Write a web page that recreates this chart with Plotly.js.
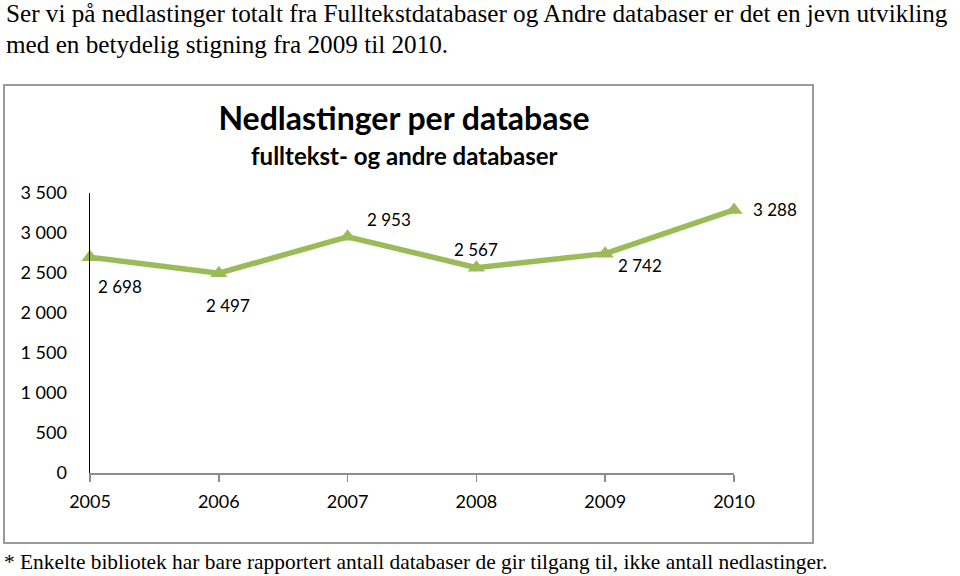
<!DOCTYPE html>
<html>
<head>
<meta charset="utf-8">
<script src="https://cdn.plot.ly/plotly-3.0.1.min.js"></script>
<style>
  html, body { margin: 0; padding: 0; background: #fff; }
  #wrap { position: relative; width: 960px; height: 576px; overflow: hidden; }
  #chart { position: absolute; left: 0; top: 0; width: 960px; height: 576px; }
  .txt { position: absolute; font-family: "Liberation Serif", "Times New Roman", serif; color: #000; white-space: nowrap; }
  .intro { left: 6px; font-size: 25.2px; line-height: normal; }
  #intro1 { top: 0px; }
  #intro2 { top: 31px; }
  #foot { left: 4px; top: 549px; font-size: 21.4px; line-height: 26px; }
</style>
</head>
<body>
<div id="wrap">
  <div id="chart"></div>
  <div class="txt intro" id="intro1">Ser vi på nedlastinger totalt fra Fulltekstdatabaser og Andre databaser er det en jevn utvikling</div>
  <div class="txt intro" id="intro2">med en betydelig stigning fra 2009 til 2010.</div>
  <div class="txt" id="foot">* Enkelte bibliotek har bare rapportert antall databaser de gir tilgang til, ikke antall nedlastinger.</div>
</div>
<script>
const years = [2005, 2006, 2007, 2008, 2009, 2010];
const downloads = [2698, 2497, 2953, 2567, 2742, 3288];
const yTicks = [0, 500, 1000, 1500, 2000, 2500, 3000, 3500];
const chartTitle = 'Nedlastinger per database';
const chartSubtitle = 'fulltekst- og andre databaser';

const labelShift = [[30, -29], [9, -32], [41, 17], [0, 18], [35, -12], [41, 0]];
const fmt = v => String(v).replace(/\B(?=(\d{3})+(?!\d))/g, ' ');
const FONT = 'Lato, "Noto Sans", sans-serif';
const green = '#9BBB59';

const trace = {
  x: years, y: downloads, type: 'scatter', mode: 'lines+markers',
  line: { color: green, width: 5.5 },
  marker: { symbol: 'triangle-up', size: 15, color: green },
  cliponaxis: false, hoverinfo: 'skip'
};

const annotations = years.map((yr, i) => ({
  x: yr, y: downloads[i], xref: 'x', yref: 'y', text: fmt(downloads[i]),
  showarrow: false, xshift: labelShift[i][0], yshift: labelShift[i][1],
  font: { family: FONT, size: 17, color: '#000' }
}));
annotations.push({
  xref: 'paper', yref: 'paper', x: (404 - 90) / 644, y: (473 - 155) / 280,
  text: '<b>' + chartSubtitle + '</b>', showarrow: false,
  xanchor: 'center', yanchor: 'middle',
  font: { family: FONT, size: 24, color: '#000' }
});

const layout = {
  width: 960, height: 576,
  margin: { l: 90, r: 226, t: 193, b: 103 },
  paper_bgcolor: 'rgba(0,0,0,0)', plot_bgcolor: 'rgba(0,0,0,0)',
  separators: ', ',
  showlegend: false,
  title: {
    text: '<b>' + chartTitle + '</b>',
    x: 404 / 960, xanchor: 'center', xref: 'container',
    y: 1 - 119 / 576, yanchor: 'middle', yref: 'container',
    font: { family: FONT, size: 32, color: '#000' }
  },
  xaxis: {
    range: [2005, 2010], tickvals: years, ticktext: years.map(String),
    showgrid: false, zeroline: false,
    showline: true, linecolor: '#8c8c8c', linewidth: 1.5,
    ticks: 'outside', ticklen: 7, tickcolor: '#8c8c8c', tickwidth: 1.5,
    ticklabelstandoff: 5,
    tickfont: { family: FONT, size: 18, color: '#000' }
  },
  yaxis: {
    range: [0, 3500], tickvals: yTicks, ticktext: yTicks.map(fmt),
    showgrid: false, zeroline: false,
    showline: true, linecolor: '#000', linewidth: 1.5,
    ticks: '', ticklabelstandoff: 18,
    tickfont: { family: FONT, size: 18, color: '#000' }
  },
  annotations: annotations,
  shapes: [{
    type: 'rect', xref: 'paper', yref: 'paper',
    x0: (4 - 90) / 644, x1: (813 - 90) / 644,
    y0: (473 - 543) / 280, y1: (473 - 85) / 280,
    line: { color: '#9a9a9a', width: 2 }, fillcolor: 'rgba(0,0,0,0)', layer: 'below'
  }]
};

Plotly.newPlot('chart', [trace], layout, { displayModeBar: false, staticPlot: true });
</script>
</body>
</html>
